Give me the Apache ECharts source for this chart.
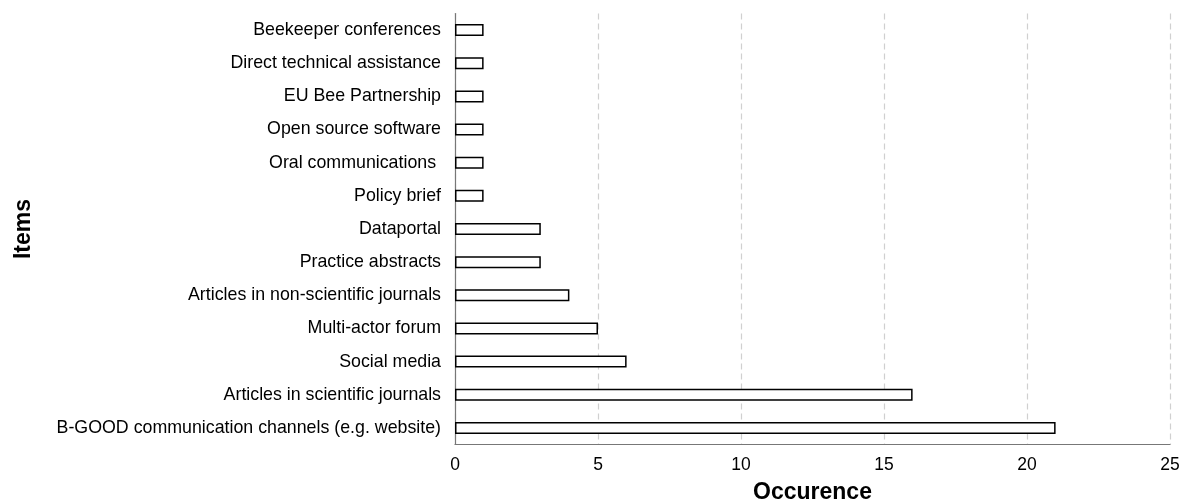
<!DOCTYPE html>
<html>
<head>
<meta charset="utf-8">
<script src="https://cdn.jsdelivr.net/npm/echarts@6/dist/echarts.min.js"></script>
<style>html,body{margin:0;padding:0;background:#fff}#c{width:1181px;height:503px}</style>
</head>
<body>
<div id="c"></div>
<script>
const categories = [
  "B-GOOD communication channels (e.g. website)",
  "Articles in scientific journals",
  "Social media",
  "Multi-actor forum",
  "Articles in non-scientific journals",
  "Practice abstracts",
  "Dataportal",
  "Policy brief",
  "Oral communications ",
  "Open source software",
  "EU Bee Partnership",
  "Direct technical assistance",
  "Beekeeper conferences"
];
const values = [21, 16, 6, 5, 4, 3, 3, 1, 1, 1, 1, 1, 1];
const xTicks = [0, 5, 10, 15, 20, 25];

const chart = echarts.init(document.getElementById('c'));
chart.setOption({
  animation: false,
  grid: { left: 455, right: 11, top: 13.5, bottom: 58.5, containLabel: false, outerBoundsMode: 'none' },
  xAxis: {
    type: 'value', min: xTicks[0], max: xTicks[xTicks.length - 1], interval: 5,
    name: 'Occurence', nameLocation: 'middle', nameGap: 37,
    nameTextStyle: { fontFamily: 'Liberation Sans', fontSize: 23, fontWeight: 'bold', color: '#000', verticalAlign: 'top' },
    axisLine: { show: true, lineStyle: { color: '#777', width: 1.2 } },
    axisTick: { show: false },
    axisLabel: { fontFamily: 'Liberation Sans', fontSize: 17.5, color: '#000', margin: 12 },
    splitLine: { show: true, lineStyle: { color: '#d0d0d0', type: [6, 4], width: 1.2 } }
  },
  yAxis: {
    type: 'category', data: categories,
    name: 'Items', nameLocation: 'middle', nameGap: 431, nameRotate: 90,
    nameTextStyle: { fontFamily: 'Liberation Sans', fontSize: 23, fontWeight: 'bold', color: '#000', verticalAlign: 'middle' },
    axisLine: { show: true, lineStyle: { color: '#777', width: 1.2 } },
    axisTick: { show: false },
    axisLabel: { fontFamily: 'Liberation Sans', fontSize: 17.8, color: '#000', margin: 14 },
    splitLine: { show: false }
  },
  series: [{
    type: 'bar', data: values, barWidth: 12,
    itemStyle: { color: '#fff', borderColor: '#000', borderWidth: 1.5 }
  }]
});
</script>
</body>
</html>
